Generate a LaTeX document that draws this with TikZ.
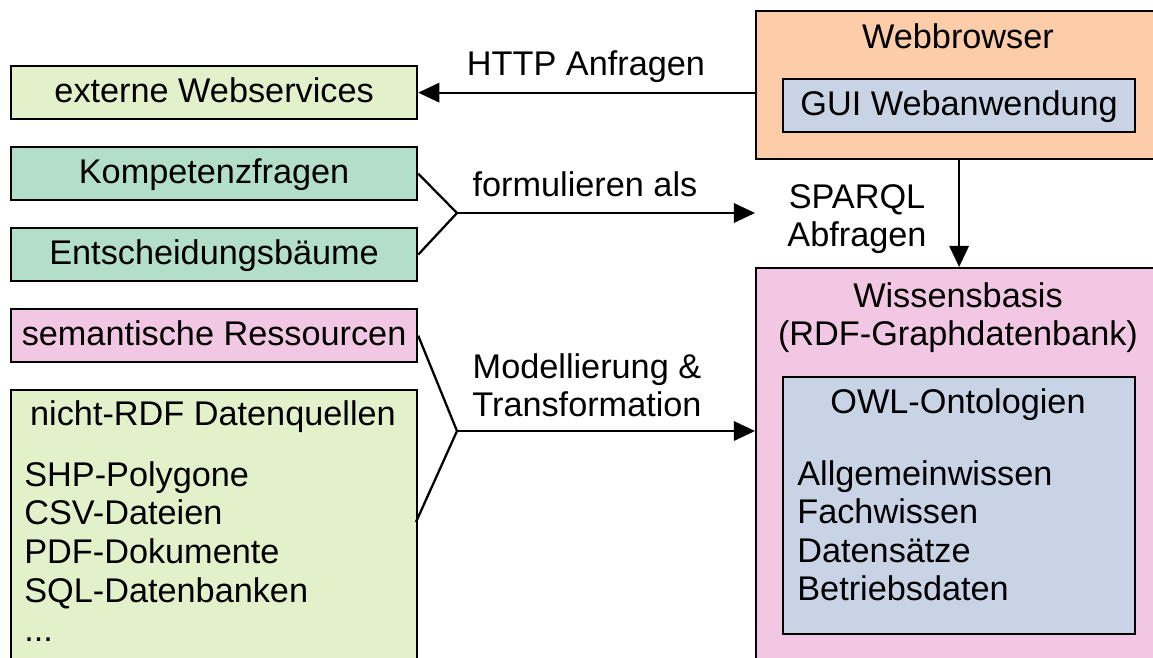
\documentclass[tikz,border=0pt]{standalone}
\usepackage{fontspec}
\setmainfont{Liberation Sans}
\usetikzlibrary{arrows.meta,positioning}
\definecolor{hellgruen}{HTML}{E3F1CB}
\definecolor{tuerkis}{HTML}{B3DFCA}
\definecolor{rosa}{HTML}{F2C7E3}
\definecolor{orange}{HTML}{FDCDA9}
\definecolor{graublau}{HTML}{C9D3E6}
\newcommand*\punkte{...}

\begin{document}
\begin{tikzpicture}[x=0.02cm,y=-0.02cm,
     schriftart/.style={font=\fontsize{19.5}{21.6}\selectfont},
     schrift/.style={schriftart,text height=1.18em,text depth=0.04em},
     box/.style={draw,rectangle,line width=1.3pt,inner sep=0pt,schrift,
                 minimum width=8.12cm,minimum height=1.06cm,anchor=north west},
     innen/.style={box,minimum width=7.04cm},
     lbl/.style={schrift,align=center,inner sep=0pt},
     zweizeilig/.style={schriftart,align=center,inner sep=0pt},
     conn/.style={line width=1.3pt},
     pfeil/.style={conn,-{Triangle[length=12pt,width=11pt]}}
     ]
   \useasboundingbox (0,0) rectangle (1153,657);
   \clip (0,0) rectangle (1153,657);

   % linke Spalte
   \node[box,fill=hellgruen] (extern) at (10,65) {externe Webservices};
   \node[box,fill=tuerkis] (kompetenz) at (10,146) {Kompetenzfragen};
   \node[box,fill=tuerkis] (entscheid) at (10,227) {Entscheidungsbäume};
   \node[box,fill=rosa] (semantik) at (10,308) {semantische Ressourcen};
   \node[box,fill=hellgruen,minimum height=6cm] (datenq) at (10,389) {};
   \node[lbl] (datenqtitel) at (213,415) {nicht-RDF Datenquellen};
   \foreach \i/\eintrag in {0/SHP-Polygone,1/CSV-Dateien,2/PDF-Dokumente,
                            3/SQL-Datenbanken,4/\punkte}
   {
     \node[lbl,anchor=west] (quelle\i) at (24,476+38.8*\i) {\eintrag};
   }

   % rechte Spalte
   \node[box,fill=orange,minimum height=2.96cm] (browser) at (755,10) {};
   \node[lbl] (browsertitel) at (958,38) {Webbrowser};
   \node[innen,fill=graublau] (gui) at (782,78) {GUI Webanwendung};

   \node[box,fill=rosa,minimum height=8cm] (wissen) at (755,267) {};
   \node[zweizeilig] (wissentitel) at (958,318) {Wissensbasis\\(RDF-Graphdatenbank)};
   \node[innen,fill=graublau,minimum height=5.14cm] (owl) at (782,376) {};
   \node[lbl] (owltitel) at (958,403) {OWL-Ontologien};
   \foreach \i/\eintrag in {0/Allgemeinwissen,1/Fachwissen,2/Datensätze,3/Betriebsdaten}
   {
     \node[lbl,anchor=west] (wissen\i) at (797,475+38.5*\i) {\eintrag};
   }

   % Verbindungen
   \draw[pfeil] (extern.east -| browser.west) -- (extern.east);
   \node[lbl] (http) at (586,65) {HTTP Anfragen};

   \coordinate (gabel1) at (457,213);
   \coordinate (sparqlziel) at (755,213);
   \draw[conn] (kompetenz.east) -- (gabel1) -- (entscheid.east);
   \draw[pfeil] (gabel1) -- (sparqlziel);
   \node[lbl] (formulieren) at (585,186) {formulieren als};

   \draw[pfeil] (browser.south) -- (wissen.north);
   \node[zweizeilig] (sparql) at (857,219) {SPARQL\\Abfragen};

   \coordinate (gabel2) at (457,431);
   \coordinate (datenqanschluss) at (416,522);
   \draw[conn] (semantik.east) -- (gabel2) -- (datenqanschluss);
   \draw[pfeil] (gabel2) -- (gabel2 -| wissen.west);
   \node[zweizeilig] (modell) at (587,385) {Modellierung \&\\Transformation};
\end{tikzpicture}
\end{document}
